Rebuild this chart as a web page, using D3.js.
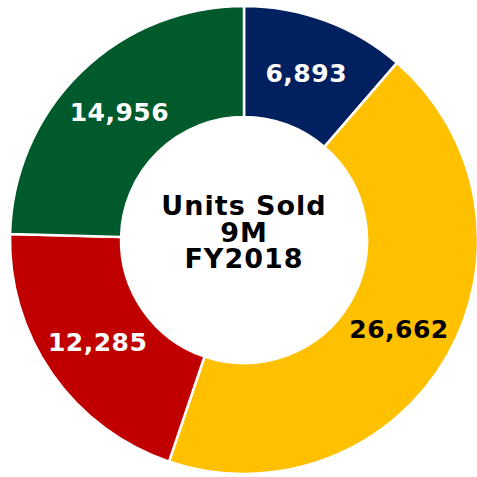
<!DOCTYPE html>
<html>
<head>
<meta charset="utf-8">
<script src="https://cdn.jsdelivr.net/npm/d3@7"></script>
<style>
  body { margin: 0; background: #fff; }
  svg text { font-family: "DejaVu Sans", Verdana, sans-serif; font-weight: bold; }
</style>
</head>
<body>
<svg width="477" height="477"></svg>
<script>
var categories = ["A", "B", "C", "D"];
var values = [6893, 26662, 12285, 14956];
var colors = ["#002060", "#FFC000", "#C00000", "#005A2B"];
var labelColors = ["#fff", "#000", "#fff", "#fff"];
var centerLines = ["Units Sold", "9M", "FY2018"];

var svg = d3.select("svg");
var cx = 244, cy = 240;
var outer = 234, inner = 123;

var g = svg.append("g")
    .attr("transform", "translate(" + cx + "," + cy + ")");

var pie = d3.pie().sort(null).value(function(d) { return d; });
var arc = d3.arc().innerRadius(inner).outerRadius(outer);

var slices = pie(values);

g.selectAll(".slice")
    .data(slices)
  .enter().append("path")
    .attr("class", "slice")
    .attr("d", arc)
    .attr("fill", function(d, i) { return colors[i]; })
    .attr("stroke", "#fff")
    .attr("stroke-width", 2.5);

g.selectAll(".lbl")
    .data(slices)
  .enter().append("text")
    .attr("class", "lbl")
    .attr("transform", function(d) { return "translate(" + arc.centroid(d) + ")"; })
    .attr("text-anchor", "middle")
    .attr("dy", "0.36em")
    .style("font-size", "25px")
    .style("letter-spacing", "0.5px")
    .style("fill", function(d, i) { return labelColors[i]; })
    .text(function(d) { return d3.format(",")(d.value); });

// center title as one text block
var title = g.append("text")
    .attr("class", "center")
    .attr("text-anchor", "middle")
    .style("font-size", "27px")
    .style("letter-spacing", "1px")
    .style("fill", "#000");

title.selectAll("tspan")
    .data(centerLines)
  .enter().append("tspan")
    .attr("x", 0)
    .attr("y", function(d, i) { return -25 + i * 26.5; })
    .text(function(d) { return d; });
</script>
</body>
</html>
